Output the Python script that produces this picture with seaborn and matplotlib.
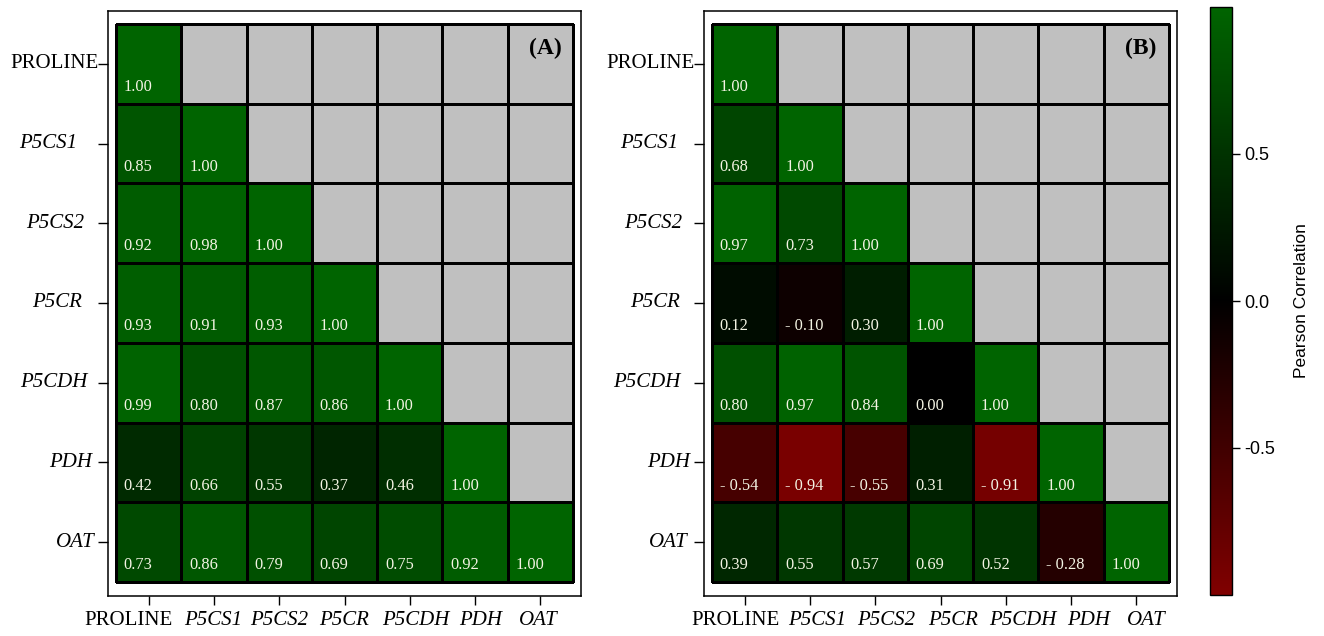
import numpy as np
import pandas as pd
import matplotlib
matplotlib.use("Agg")
import matplotlib.pyplot as plt
import matplotlib.transforms as mtrans
from matplotlib.colors import LinearSegmentedColormap, ListedColormap
import seaborn as sns

genes = ["PROLINE", "P5CS1", "P5CS2", "P5CR", "P5CDH", "PDH", "OAT"]

# Lower-triangle Pearson correlations, one list per row
corr_a_rows = [
    [1.00],
    [0.85, 1.00],
    [0.92, 0.98, 1.00],
    [0.93, 0.91, 0.93, 1.00],
    [0.99, 0.80, 0.87, 0.86, 1.00],
    [0.42, 0.66, 0.55, 0.37, 0.46, 1.00],
    [0.73, 0.86, 0.79, 0.69, 0.75, 0.92, 1.00],
]
corr_b_rows = [
    [1.00],
    [0.68, 1.00],
    [0.97, 0.73, 1.00],
    [0.12, -0.10, 0.30, 1.00],
    [0.80, 0.97, 0.84, 0.00, 1.00],
    [-0.54, -0.94, -0.55, 0.31, -0.91, 1.00],
    [0.39, 0.55, 0.57, 0.69, 0.52, -0.28, 1.00],
]

cbar_ticks = [-0.5, 0.0, 0.5]
cbar_ticklabels = ["-0.5", "0.0", "0.5"]

W, H, DPI = 1324, 636, 100
SERIF = ["Liberation Serif", "DejaVu Serif"]
SANS = ["Liberation Sans", "DejaVu Sans"]

cmap = LinearSegmentedColormap.from_list("red_black_green",
                                         ["#800000", "#000000", "#006400"])
grey = ListedColormap(["#c0c0c0"])


def to_frame(rows):
    n = len(genes)
    m = np.full((n, n), np.nan)
    for i, r in enumerate(rows):
        m[i, :len(r)] = r
    return pd.DataFrame(m, index=genes, columns=genes)


def fmt(v):
    return f"- {abs(v):.2f}" if v < 0 else f"{v:.2f}"


def px_box(x0, y0, x1, y1):
    return [x0 / W, 1 - y1 / H, (x1 - x0) / W, (y1 - y0) / H]


fig = plt.figure(figsize=(W / DPI, H / DPI), dpi=DPI)


def draw_panel(ax, rows, letter, y_shift, x_shift, cbar_ax=None):
    df = to_frame(rows)
    n = len(genes)
    upper = np.triu(np.ones((n, n), dtype=bool), k=1)

    # grey cells above the diagonal
    sns.heatmap(pd.DataFrame(np.zeros((n, n)), index=genes, columns=genes),
                mask=~upper, cmap=grey, cbar=False, linewidths=0.75,
                linecolor="black", ax=ax)
    # correlation cells
    sns.heatmap(df, mask=upper, cmap=cmap, vmin=-1, vmax=1,
                linewidths=0.75, linecolor="black",
                cbar=cbar_ax is not None, cbar_ax=cbar_ax, ax=ax)

    for i in range(n):
        for j in range(i + 1):
            ax.text(j + 0.12, i + 0.79, fmt(df.iat[i, j]), ha="left",
                    va="center", fontsize=11.8, color="#f4f4e4",
                    family=SERIF)

    ax.text(6.57, 0.31, letter, ha="center", va="center", fontsize=17,
            fontweight="bold", family=SERIF, color="black")

    ax.set_xlim(-0.1225, n + 0.1225)
    ax.set_ylim(n + 0.176, -0.163)
    ax.set_xticks(np.arange(n) + 0.5)
    ax.set_yticks(np.arange(n) + 0.5)
    ax.set_xticklabels(genes, rotation=0, fontsize=15, family=SERIF)
    ax.set_yticklabels(genes, rotation=0, va="center", fontsize=15,
                       family=SERIF)
    ax.set_xlabel("")
    ax.set_ylabel("")
    for lab in ax.get_xticklabels() + ax.get_yticklabels():
        if lab.get_text() != "PROLINE":
            lab.set_fontstyle("italic")
    ax.tick_params(axis="x", length=6.5, width=1.0, pad=4.5, bottom=True,
                   direction="out", colors="black")
    ax.tick_params(axis="y", length=7, width=1.0, pad=0, left=True,
                   direction="out", colors="black")
    for lab, dx in zip(ax.get_xticklabels(), x_shift):
        lab.set_transform(lab.get_transform() +
                          mtrans.ScaledTranslation(dx / DPI, 0,
                                                   fig.dpi_scale_trans))
    for lab, dx in zip(ax.get_yticklabels(), y_shift):
        lab.set_transform(lab.get_transform() +
                          mtrans.ScaledTranslation(-dx / DPI, 0,
                                                   fig.dpi_scale_trans))
    for s in ax.spines.values():
        s.set_visible(True)
        s.set_linewidth(1.1)
        s.set_color("black")


ax_a = fig.add_axes(px_box(108, 11, 581, 596))
ax_b = fig.add_axes(px_box(704, 11, 1177, 596))
cax = fig.add_axes(px_box(1210, 7, 1232, 595))

draw_panel(ax_a, corr_a_rows, "(A)",
           y_shift=[0, 21, 14, 16, 11, 6, 4],
           x_shift=[-20, -1, 0, 0, 6, 6, -2])
draw_panel(ax_b, corr_b_rows, "(B)",
           y_shift=[0, 16, 12, 14, 14, 4, 7],
           x_shift=[-9, 7, 11, 13, 17, 18, 10],
           cbar_ax=cax)

cbar = ax_b.collections[-1].colorbar
cbar.set_ticks(cbar_ticks)
cbar.set_ticklabels(cbar_ticklabels)
cbar.outline.set_linewidth(1.0)
cbar.outline.set_edgecolor("black")
cax.tick_params(length=6, width=1.0, pad=3, labelsize=13, colors="black")
for lab in cax.get_yticklabels():
    lab.set_family(SANS)
fig.text(1302 / W, 1 - 301 / H, "Pearson Correlation", rotation=90,
         ha="center", va="center", fontsize=12.5, family=SANS)

fig.savefig("out.png", dpi=DPI)
